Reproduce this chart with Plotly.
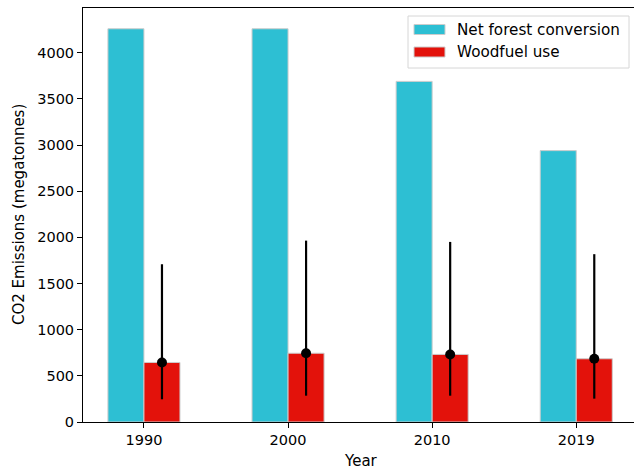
import plotly.graph_objects as go

years = ["1990", "2000", "2010", "2019"]
net_forest = [4260, 4260, 3690, 2940]
woodfuel = [645, 745, 732, 685]
woodfuel_upper = [1709, 1965, 1951, 1818]
woodfuel_lower = [246, 285, 285, 253]
yticks = [0, 500, 1000, 1500, 2000, 2500, 3000, 3500, 4000]

W, H = 634, 472
L, R, T, B = 83, 0, 8, 50
PW, PH = W - L - R, H - T - B

def px(x):
    return (x - L) / PW

def py(y):
    return (H - B - y) / PH

pos = list(range(len(years)))
bw = 0.25
FONT = "DejaVu Sans"
FS = 14.5
CYAN = "#2dbfd3"
RED = "#e3120b"

fig = go.Figure()
fig.add_trace(go.Bar(x=pos, y=net_forest, width=bw, offset=-bw,
                     marker=dict(color=CYAN, line=dict(color="#cccccc", width=1)),
                     name="Net forest conversion", showlegend=False))
fig.add_trace(go.Bar(x=pos, y=woodfuel, width=bw, offset=0,
                     marker=dict(color=RED, line=dict(color="#cccccc", width=1)),
                     name="Woodfuel use", showlegend=False))
fig.add_trace(go.Scatter(
    x=[p + bw / 2 for p in pos], y=woodfuel, mode="markers",
    marker=dict(color="black", size=10),
    error_y=dict(type="data", symmetric=False,
                 array=[u - v for u, v in zip(woodfuel_upper, woodfuel)],
                 arrayminus=[v - l for v, l in zip(woodfuel, woodfuel_lower)],
                 color="black", thickness=2.2, width=0),
    showlegend=False, hoverinfo="skip"))

shapes = []
annotations = []
# legend box
shapes.append(dict(type="rect", xref="paper", yref="paper",
                   x0=px(408), x1=px(629), y0=py(68), y1=py(16),
                   line=dict(color="#d6d6d6", width=1), fillcolor="white", layer="above"))
for i, (name, col) in enumerate([("Net forest conversion", CYAN), ("Woodfuel use", RED)]):
    yc = 29.5 + i * 22.5
    shapes.append(dict(type="rect", xref="paper", yref="paper",
                       x0=px(414), x1=px(445), y0=py(yc + 5), y1=py(yc - 5),
                       line=dict(color="#cccccc", width=1), fillcolor=col, layer="above"))
    annotations.append(dict(text=name, xref="paper", yref="paper", x=px(455), y=py(yc),
                            xanchor="left", yanchor="middle", showarrow=False,
                            font=dict(family=FONT, size=15.2, color="black")))

annotations.append(dict(text="Year", xref="paper", yref="paper", x=px(361), y=py(461),
                        xanchor="center", yanchor="middle", showarrow=False,
                        font=dict(family=FONT, size=15, color="black")))
annotations.append(dict(text="CO2 Emissions (megatonnes)", xref="paper", yref="paper",
                        x=px(19), y=py(215), textangle=-90,
                        xanchor="center", yanchor="middle", showarrow=False,
                        font=dict(family=FONT, size=15, color="black")))

fig.update_layout(
    width=W, height=H, margin=dict(l=L, r=R, t=T, b=B, pad=0),
    paper_bgcolor="white", plot_bgcolor="white",
    font=dict(family=FONT, size=FS, color="black"),
    barmode="overlay", shapes=shapes, annotations=annotations,
    xaxis=dict(range=[-0.423, -0.423 + PW / 144.1], tickvals=pos, ticktext=years,
               showline=True, linecolor="black", linewidth=1, mirror=True,
               ticks="outside", ticklen=5, tickcolor="black", showgrid=False, zeroline=False),
    yaxis=dict(range=[0, 4485], tickvals=yticks, showline=True, linecolor="black", linewidth=1,
               ticks="outside", ticklen=5, tickcolor="black", showgrid=False, zeroline=False),
)
fig.write_html("out.html", config={"displayModeBar": False},
               post_script="document.body.style.margin='0';")
